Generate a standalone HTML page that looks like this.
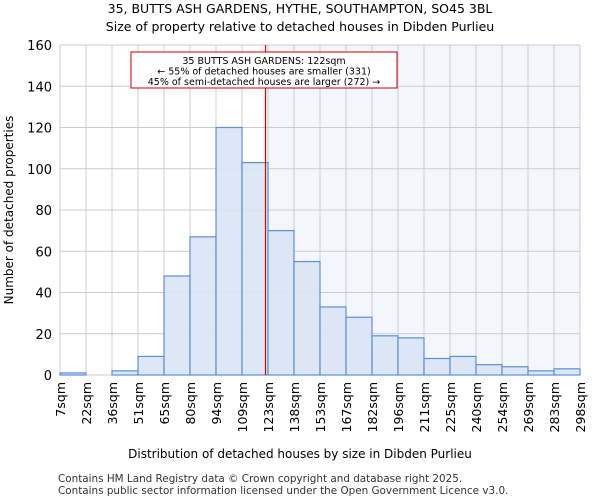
<!DOCTYPE html>
<html><head><meta charset="utf-8"><style>
body{margin:0;background:#fff;font-family:"DejaVu Sans","Liberation Sans",sans-serif}
</style></head><body>
<svg width="600" height="500" xmlns="http://www.w3.org/2000/svg" font-family="DejaVu Sans, Liberation Sans, sans-serif">
<text x="300" y="13" text-anchor="middle" font-size="12.5">35, BUTTS ASH GARDENS, HYTHE, SOUTHAMPTON, SO45 3BL</text>
<text x="300" y="31" text-anchor="middle" font-size="12.5">Size of property relative to detached houses in Dibden Purlieu</text>
<g id="plot"></g>
<text x="300" y="458" text-anchor="middle" font-size="12">Distribution of detached houses by size in Dibden Purlieu</text>
<text transform="translate(13,210) rotate(-90)" text-anchor="middle" font-size="12">Number of detached properties</text>
<text x="58" y="482" font-size="10.4" fill="#333">Contains HM Land Registry data © Crown copyright and database right 2025.</text>
<text x="58" y="494" font-size="10.4" fill="#333">Contains public sector information licensed under the Open Government Licence v3.0.</text>
</svg>
<script>
const categories=["7sqm","22sqm","36sqm","51sqm","65sqm","80sqm","94sqm","109sqm","123sqm","138sqm","153sqm","167sqm","182sqm","196sqm","211sqm","225sqm","240sqm","254sqm","269sqm","283sqm","298sqm"];
const counts=[1,0,2,9,48,67,120,103,70,55,33,28,19,18,8,9,5,4,2,3];
const yTicks=[0,20,40,60,80,100,120,140,160];
const binStart=7, binWidth=14.55, propertySize=122;
const X0=60,X1=580,Y0=375,Y1=45,yMax=160;
const bw=(X1-X0)/counts.length;
const xs=v=>X0+(v-binStart)/binWidth*bw;
const y=v=>Y0-(v/yMax)*(Y0-Y1);
const ns="http://www.w3.org/2000/svg";
const g=document.getElementById('plot');
function mk(t,a){const e=document.createElementNS(ns,t);for(const k in a)e.setAttribute(k,a[k]);g.appendChild(e);return e;}
const lx=xs(propertySize);
let e=mk('rect',{x:lx,y:Y1,width:X1-lx,height:Y0-Y1,fill:'#f3f6fd'});


for(let i=0;i<=counts.length;i++){e=mk('line',{x1:X0+i*bw,x2:X0+i*bw,y1:Y1,y2:Y0,stroke:'#ccc'});

}
yTicks.forEach(t=>{e=mk('line',{x1:X0,x2:X1,y1:y(t),y2:y(t),stroke:'#ccc'});


e=mk('text',{x:X0-8,y:y(t)+5,'text-anchor':'end','font-size':'13'});e.textContent=t;

});
counts.forEach((c,i)=>{e=mk('rect',{x:X0+i*bw,y:y(c),width:bw,height:Y0-y(c),fill:'#dae4f4','fill-opacity':0.9,stroke:'#5b8fd6','stroke-width':1.2});

});
categories.forEach((c,i)=>{const tx=X0+i*bw;e=mk('text',{transform:`translate(${tx+5},382) rotate(-90)`,'text-anchor':'end','font-size':'12.5'});e.textContent=c;

});
e=mk('line',{x1:lx,x2:lx,y1:Y1,y2:Y0,stroke:'#d00','stroke-width':1.2});


e=mk('rect',{x:131,y:52,width:266,height:36,fill:'#fff',stroke:'#c00'});


["35 BUTTS ASH GARDENS: 122sqm","← 55% of detached houses are smaller (331)","45% of semi-detached houses are larger (272) →"].forEach((s,i)=>{e=mk('text',{x:264,y:64+i*10.5,'text-anchor':'middle','font-size':'9.5'});e.textContent=s;

});
</script>
</body></html>
